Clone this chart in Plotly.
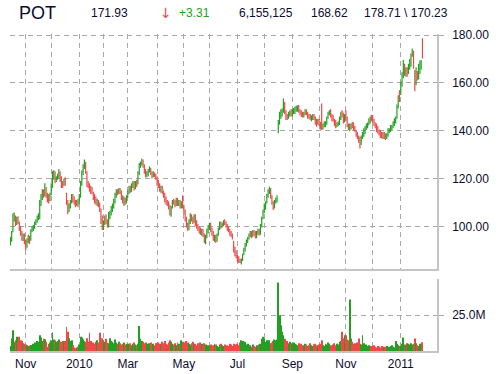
import pandas as pd
import plotly.graph_objects as go

# ---------------- data ----------------
ticker = "POT"
header_last = "171.93"
header_change = "+3.31"
header_volume = "6,155,125"
header_prev = "168.62"
header_hilo = "178.71 \\ 170.23"

start_date = "2009-10-15"
end_date = "2011-01-27"
holidays = ["2009-11-26", "2009-12-25", "2010-01-01", "2010-01-18", "2010-02-15",
            "2010-04-02", "2010-05-31", "2010-07-05", "2010-09-06", "2010-11-25",
            "2010-12-24", "2011-01-17"]

closes = [
    94.5, 97.0, 103.0, 104.5, 101.0, 103.0, 102.0, 99.0, 97.0, 95.0, 96.0, 93.0,
    91.5, 94.0, 95.0, 94.0, 98.0, 99.0, 99.5, 101.0, 102.0, 103.5, 104.0, 109.0, 112.0, 114.0, 113.0, 114.0, 113.0, 112.0, 111.0, 113.0,
    117, 121, 122, 119, 120, 121, 122, 120, 118, 117, 119, 118, 110, 107, 108, 110, 112, 111, 110, 109, 110, 109,
    112, 117, 122, 125, 126, 123, 118, 117, 116, 115, 114.5, 112, 111, 110, 110, 109.5, 108, 103, 100,
    101, 103, 102, 101, 104, 105, 107, 108, 110, 113, 114, 114, 115, 114, 112, 110, 111, 110, 112,
    114, 116, 115, 117, 117.5, 116, 118, 117, 122, 125, 126, 127, 125, 123, 121, 122, 123, 124, 122, 121, 122, 121, 120,
    118, 117, 115.5, 116, 114, 113, 111, 110, 109.5, 108, 106, 108, 110, 110, 109, 111, 109, 110, 108, 110, 109,
    106, 103, 100, 99, 102, 104, 103, 102, 104, 101, 100, 99, 98, 97.5, 98, 96, 94, 95, 98, 99,
    100, 98, 97, 95, 95.5, 94, 96, 99, 101, 100, 101, 102, 101, 100, 99, 98.5, 97, 96, 95, 90, 89, 87,
    86, 85.5, 85, 86, 88, 90, 92, 93, 95, 96, 97, 96, 97.5, 97, 96, 97, 98, 97, 100, 103, 106,
    108, 110, 113, 114, 115, 112, 110, 108, 110, 111, 112, 143, 146, 147, 148, 151, 148, 146, 145.5, 147, 147.5, 147,
    148, 148.5, 149, 149.5, 150, 148, 147.5, 147, 146.5, 147, 148, 147, 146, 146, 145, 145.5, 146, 145, 144, 143.5, 144,
    143, 141.5, 141, 142, 142.5, 143, 145, 147, 148, 146, 145, 144, 143, 142, 142.5, 143, 145, 147, 146, 144, 146,
    145, 142, 141, 141.5, 142, 142, 141, 140, 138, 137, 136, 134, 137, 138, 139, 141, 142, 142.5, 144, 145, 145.5,
    144, 143, 142, 141, 140, 139, 138.5, 138, 137.5, 138, 137, 138, 139.5, 140, 141, 142, 143, 144, 145, 150, 153, 154.83,
    159, 162, 166, 164, 165, 164, 166, 168, 171, 173, 168, 159, 163, 162, 165, 167, 168.62, 171.93,
]

opens = [
    93.0, 95.0, 98.0, 103.5, 104.0, 101.5, 103.5, 101.5, 99.5, 97.5, 94.5, 96.5,
    93.5, 92.0, 94.5, 95.5, 94.5, 98.5, 99.0, 99.8, 101.5, 102.0, 103.8, 104.5, 109.5, 112.5, 114.5, 113.0, 116.0, 113.5, 112.5, 111.0,
    113.5, 117.5, 121.5, 122.5, 119.5, 120.5, 121.5, 122.5, 120.5, 118.5, 117.5, 119.5, 113.0, 110.5, 107.5, 108.5, 110.5, 112.5, 111.5, 110.5, 109.0, 110.5,
    109.5, 112.5, 117.5, 122.5, 125.5, 126.5, 122.5, 118.5, 117.0, 116.5, 115.5, 114.0, 112.5, 111.5, 109.5, 110.5, 109.0, 107.0, 103.5,
    100.5, 101.5, 103.5, 102.5, 101.0, 104.5, 105.5, 107.0, 108.5, 110.0, 113.0, 114.5, 114.0, 115.5, 114.5, 112.5, 109.5, 111.5, 110.0,
    112.5, 114.5, 116.5, 115.0, 117.5, 118.0, 116.0, 118.5, 118.0, 122.5, 125.5, 126.5, 127.5, 125.5, 123.0, 121.0, 122.0, 123.5, 124.0, 122.5, 121.0, 122.0, 121.5,
    120.5, 118.5, 117.0, 115.0, 116.5, 114.0, 113.5, 111.5, 110.0, 109.5, 108.5, 105.5, 108.5, 110.5, 110.0, 109.0, 111.5, 109.0, 110.5, 108.0, 110.5,
    108.5, 106.5, 103.0, 100.5, 99.5, 102.0, 104.5, 103.5, 102.0, 104.5, 101.5, 100.5, 99.0, 98.5, 97.0, 98.5, 96.5, 93.5, 95.5, 98.0,
    99.5, 100.5, 98.5, 97.0, 94.5, 96.0, 94.0, 96.5, 99.0, 101.5, 100.0, 101.0, 102.5, 101.5, 100.5, 99.0, 98.5, 97.5, 96.5, 93.5, 90.5, 89.0,
    87.5, 86.5, 86.0, 84.5, 86.5, 88.5, 90.5, 92.5, 93.5, 95.0, 96.5, 97.5, 96.0, 98.0, 97.5, 96.0, 97.5, 98.5, 97.0, 100.5, 103.5,
    106.5, 108.0, 110.0, 113.5, 114.5, 115.5, 112.5, 110.0, 108.0, 110.5, 110.5, 139.5, 143.5, 146.0, 147.5, 148.5, 151.5, 148.0, 146.5, 145.5, 147.0, 148.0,
    147.0, 148.5, 148.0, 149.0, 149.0, 150.5, 148.5, 147.5, 147.5, 146.0, 147.0, 148.5, 147.5, 146.5, 146.0, 144.5, 145.0, 146.5, 145.5, 144.5, 143.0,
    144.5, 143.0, 142.0, 141.0, 142.5, 142.0, 143.0, 145.5, 147.0, 148.5, 146.5, 145.5, 144.0, 143.5, 142.0, 142.5, 143.0, 145.0, 147.5, 146.5, 144.0,
    146.5, 145.5, 142.0, 140.5, 141.5, 142.5, 142.5, 141.0, 140.0, 138.5, 137.5, 136.5, 134.5, 137.0, 138.0, 139.0, 141.0, 142.0, 142.5, 144.0, 146.5,
    145.5, 144.5, 143.0, 142.0, 141.5, 140.0, 139.5, 138.5, 138.5, 137.0, 138.5, 137.0, 138.0, 139.5, 140.0, 141.0, 141.5, 143.0, 144.0, 145.5, 150.0, 156.5,
    155.5, 159.0, 162.5, 167.0, 163.5, 165.5, 164.0, 166.5, 168.0, 171.5, 173.0, 165.0, 159.5, 164.0, 162.0, 165.5, 167.5, 178.0,
]

highs = [
    95.5, 98.0, 105.5, 105.8, 104.5, 104.0, 104.2, 102.0, 100.0, 98.0, 97.0, 97.0,
    94.5, 95.0, 96.5, 96.0, 98.8, 100.0, 100.5, 102.0, 103.0, 104.5, 105.5, 111.0, 113.5, 115.5, 115.5, 118.0, 116.5, 114.0, 113.5, 114.0,
    118.0, 123.0, 123.5, 123.0, 121.0, 122.0, 124.0, 123.0, 121.0, 119.0, 120.0, 120.5, 114.0, 111.0, 109.5, 111.0, 113.5, 113.5, 112.5, 111.0, 111.0, 111.5,
    113.5, 119.0, 123.5, 126.0, 128.0, 127.0, 123.0, 119.0, 118.0, 117.0, 116.5, 114.5, 113.5, 112.5, 111.5, 111.0, 110.0, 107.5, 104.5,
    102.5, 104.5, 105.0, 103.0, 106.0, 106.5, 108.5, 109.5, 111.5, 114.0, 115.5, 115.5, 116.0, 116.0, 115.0, 113.0, 112.5, 112.0, 113.0,
    115.0, 117.0, 117.0, 118.0, 119.0, 119.0, 119.0, 119.5, 123.0, 126.5, 127.0, 128.3, 128.0, 126.0, 124.0, 123.0, 124.0, 125.0, 124.5, 123.0, 123.0, 122.5, 122.0,
    121.0, 119.5, 118.0, 117.0, 117.0, 115.0, 114.0, 112.5, 111.0, 110.5, 109.0, 108.5, 111.0, 111.5, 111.0, 112.0, 112.0, 111.0, 111.0, 110.5, 113.0,
    109.0, 107.0, 104.0, 101.5, 103.0, 105.5, 105.0, 104.0, 105.0, 105.0, 102.5, 101.0, 100.0, 99.5, 99.0, 99.0, 97.0, 96.5, 99.0, 100.5,
    101.5, 101.5, 99.5, 98.0, 96.5, 96.5, 97.0, 99.5, 102.0, 102.0, 101.5, 102.5, 103.0, 102.0, 101.0, 100.0, 99.0, 98.0, 97.0, 94.0, 91.5, 90.0,
    88.0, 87.5, 86.5, 86.5, 88.5, 91.0, 93.0, 94.5, 95.5, 97.0, 98.0, 98.0, 98.5, 98.5, 98.0, 98.0, 99.0, 99.0, 101.0, 104.0, 107.0,
    109.5, 110.5, 113.5, 115.5, 116.6, 116.0, 113.0, 110.5, 111.0, 112.0, 113.0, 144.5, 148.0, 149.0, 149.3, 153.5, 152.0, 148.6, 147.0, 148.0, 148.5, 149.0,
    149.0, 149.5, 150.0, 150.5, 150.7, 150.8, 149.0, 148.6, 148.0, 148.0, 149.0, 149.0, 148.0, 147.0, 147.0, 146.5, 147.0, 147.0, 146.0, 145.0, 145.0,
    145.0, 143.8, 151.4, 143.0, 144.0, 144.0, 146.0, 148.0, 148.6, 149.0, 147.0, 146.6, 145.0, 144.5, 143.5, 144.0, 146.0, 148.0, 148.6, 147.5, 147.0,
    148.6, 146.0, 143.0, 143.0, 143.0, 143.8, 143.5, 142.0, 140.3, 139.5, 138.0, 137.5, 138.0, 139.5, 141.0, 142.0, 143.0, 143.5, 145.2, 146.0, 146.6,
    146.6, 145.0, 143.5, 143.0, 142.0, 140.5, 140.3, 139.5, 139.5, 139.6, 139.0, 139.0, 141.0, 141.0, 142.4, 142.4, 144.0, 145.2, 146.0, 151.0, 154.9, 157.0,
    160.5, 164.5, 169.6, 168.0, 166.6, 166.6, 168.0, 170.0, 172.3, 174.4, 173.5, 165.4, 166.6, 165.0, 168.0, 169.4, 169.6, 178.71,
]

lows = [
    92.0, 93.5, 97.5, 102.0, 100.0, 100.5, 101.0, 98.0, 96.0, 94.0, 93.8, 92.5,
    90.0, 91.0, 93.0, 92.5, 94.0, 97.5, 98.0, 99.0, 100.5, 101.5, 102.5, 103.0, 108.5, 111.0, 112.0, 112.5, 112.0, 110.0, 109.5, 110.5,
    113.0, 116.0, 119.5, 118.0, 118.5, 119.5, 120.0, 118.6, 116.0, 116.0, 117.0, 117.0, 109.0, 105.0, 106.0, 107.5, 109.5, 110.0, 109.0, 108.0, 108.5, 108.0,
    109.0, 112.0, 117.0, 121.5, 124.0, 122.0, 116.5, 116.0, 114.5, 113.5, 113.5, 111.0, 109.5, 109.0, 108.5, 108.0, 106.0, 101.0, 98.5,
    98.5, 100.5, 101.0, 99.5, 99.5, 103.0, 104.5, 106.0, 107.5, 109.5, 112.0, 113.0, 113.5, 113.5, 111.0, 109.5, 108.5, 109.0, 109.5,
    112.0, 113.5, 114.0, 114.5, 116.0, 115.0, 115.5, 116.5, 117.5, 121.5, 124.5, 125.5, 124.5, 122.0, 120.5, 120.5, 121.0, 122.5, 121.5, 120.0, 120.5, 120.5, 119.5,
    117.0, 116.0, 114.5, 114.0, 113.5, 112.0, 110.0, 109.0, 108.5, 107.0, 104.5, 104.0, 107.5, 109.0, 108.0, 108.5, 108.5, 108.5, 107.5, 107.5, 107.5,
    105.0, 102.0, 99.5, 98.0, 98.5, 101.0, 102.0, 101.0, 101.5, 100.0, 99.0, 98.0, 97.0, 96.5, 96.0, 95.5, 93.0, 92.5, 95.0, 97.0,
    98.5, 97.5, 96.0, 94.0, 93.5, 93.0, 93.5, 96.0, 98.5, 99.0, 99.5, 100.0, 100.5, 99.5, 98.0, 97.5, 96.0, 95.5, 94.5, 89.0, 87.5, 86.5,
    85.0, 84.6, 84.6, 84.0, 85.5, 88.0, 89.5, 91.5, 93.0, 94.5, 95.5, 95.0, 95.5, 96.0, 95.0, 95.0, 96.5, 96.0, 96.5, 99.5, 103.0,
    105.5, 107.0, 109.5, 112.0, 113.5, 111.5, 109.0, 106.8, 107.5, 109.5, 110.0, 139.0, 142.5, 145.0, 146.0, 147.5, 147.0, 144.5, 144.5, 145.0, 146.0, 146.0,
    146.0, 147.0, 147.0, 148.0, 148.0, 147.5, 146.5, 145.8, 145.5, 145.5, 146.5, 146.5, 145.0, 145.0, 144.5, 144.0, 144.5, 144.5, 142.5, 141.7, 142.5,
    142.0, 140.5, 140.3, 140.5, 141.5, 141.5, 142.5, 145.0, 146.5, 145.5, 144.0, 143.8, 142.0, 141.0, 141.5, 142.0, 142.4, 144.5, 145.5, 143.0, 143.5,
    144.0, 141.5, 140.3, 139.8, 140.5, 141.0, 140.0, 139.6, 137.5, 136.5, 135.0, 132.6, 134.0, 136.5, 137.5, 138.5, 140.3, 141.0, 142.4, 143.0, 144.0,
    143.0, 142.0, 141.0, 139.5, 138.9, 138.0, 137.0, 136.8, 136.5, 136.5, 136.1, 136.5, 137.5, 139.0, 139.5, 140.3, 141.0, 142.0, 143.0, 145.0, 149.3, 152.0,
    155.0, 158.4, 162.0, 163.0, 162.6, 162.6, 163.8, 165.5, 166.8, 171.0, 166.0, 156.5, 159.0, 161.0, 161.5, 163.8, 165.5, 170.23,
]

volumes_m = [
    3.5, 8.8, 14.5, 6.5, 7.5, 10.0, 6.5, 10.0, 7.5, 7.0, 5.5, 5.0,
    4.5, 4.0, 3.5, 3.8, 4.2, 3.5, 5.0, 6.0, 5.5, 7.0, 6.5, 11.0, 9.5, 7.0, 8.5, 8.0, 6.5, 3.0, 5.0, 6.0,
    7.5, 13.0, 8.0, 7.5, 6.5, 7.0, 8.0, 6.0, 6.5, 7.0, 6.0, 7.0, 16.9, 13.4, 9.0, 7.0, 7.5, 4.0, 2.5, 2.0, 2.5, 3.0,
    4.5, 10.0, 9.5, 8.0, 7.0, 6.5, 9.0, 6.5, 12.7, 7.0, 5.5, 6.0, 5.0, 6.5, 7.5, 6.0, 12.7, 8.5, 9.0,
    7.5, 6.5, 8.5, 6.0, 5.5, 9.0, 7.0, 6.5, 5.5, 8.0, 6.0, 5.0, 6.5, 5.5, 4.5, 5.0, 6.0, 4.5, 5.0,
    5.0, 4.5, 5.5, 4.0, 5.0, 6.0, 4.5, 4.0, 5.0, 17.5, 8.5, 7.0, 6.5, 5.5, 6.0, 5.0, 4.5, 5.5, 6.0, 4.5, 5.0, 4.0, 5.5,
    5.5, 6.0, 5.0, 4.5, 6.5, 5.5, 7.0, 5.0, 4.5, 6.0, 7.5, 6.5, 5.0, 4.5, 5.5, 4.0, 6.0, 5.0, 4.5, 7.5, 6.5,
    5.5, 6.0, 7.0, 6.0, 5.0, 4.5, 5.5, 6.5, 4.5, 5.0, 4.0, 5.5, 4.5, 6.0, 5.0, 4.0, 5.5, 4.5, 4.0, 3.5,
    4.0, 4.5, 3.5, 4.0, 5.0, 4.5, 3.5, 3.0, 4.5, 5.0, 4.0, 3.5, 4.5, 3.0, 4.0, 3.5, 5.0, 4.5, 3.5, 5.0, 4.5, 4.0,
    5.0, 4.0, 6.0, 7.5, 7.0, 5.5, 6.5, 4.5, 5.0, 3.5, 4.0, 3.0, 4.5, 3.5, 3.0, 4.0, 3.5, 4.5, 5.0, 8.5, 10.0,
    9.0, 6.5, 7.5, 7.0, 7.5, 5.5, 6.0, 7.0, 8.0, 7.5, 8.0, 48.0, 25.0, 18.0, 13.4, 11.0, 8.5, 6.0, 7.0, 5.5, 6.5, 5.0,
    5.5, 6.0, 5.0, 4.5, 4.0, 5.5, 4.5, 5.0, 4.0, 3.5, 5.0, 4.5, 3.5, 4.0, 5.5, 4.0, 3.5, 4.5, 5.0, 4.0, 3.5,
    4.5, 5.0, 7.5, 4.0, 3.5, 5.0, 4.5, 6.0, 5.0, 4.0, 3.5, 4.5, 5.5, 4.0, 5.0, 4.5, 6.5, 7.0, 13.4, 9.0, 11.0,
    11.0, 8.0, 7.5, 36.0, 8.8, 6.5, 5.0, 5.5, 4.5, 6.0, 8.8, 5.0, 4.5, 11.0, 5.5, 4.0, 4.5, 3.5, 4.0, 3.0, 3.5,
    3.5, 4.0, 3.0, 2.5, 3.5, 3.0, 2.5, 3.5, 3.0, 2.5, 3.0, 3.5, 2.5, 3.0, 3.5, 4.0, 3.0, 2.5, 7.0, 5.0, 4.0, 3.5,
    3.5, 5.0, 9.5, 4.5, 4.0, 5.5, 5.0, 4.5, 5.5, 4.5, 5.0, 8.8, 5.5, 4.0, 3.5, 5.0, 4.5, 6.155125,
]

price_ticks = [100, 120, 140, 160, 180]
volume_ticks = [25e6]
volume_tick_text = ["25.0M"]
month_abbr = {3: "Mar", 5: "May", 7: "Jul", 9: "Sep", 11: "Nov"}

# ---------------- derived ----------------
dates = pd.bdate_range(start_date, end_date)
dates = dates[~dates.isin(pd.to_datetime(holidays))]
n = len(closes)
assert len(dates) == n == len(opens) == len(highs) == len(lows) == len(volumes_m), (
    len(dates), n, len(opens), len(highs), len(lows), len(volumes_m))
idx = list(range(n))
volumes = [v * 1e6 for v in volumes_m]

tickvals, ticktext = [], []
for i in range(1, n):
    if dates[i].month != dates[i - 1].month:
        tickvals.append(i)
        m = dates[i].month
        if m == 1:
            ticktext.append(str(dates[i].year))
        else:
            ticktext.append(month_abbr.get(m, ""))

GREEN = "#22a022"
RED = "#f04848"
TEXT = "#0c0c30"
GRID = "#a8a8a8"
AXIS = "#c4c4c4"
FONT = "Liberation Sans, Arial, sans-serif"

vol_colors = [GREEN if c >= o else RED for o, c in zip(opens, closes)]

W, H = 500, 374
PLOT_L, PLOT_R, PLOT_T, PLOT_B = 10, 437, 34, 351   # page pixels
ML, MR, MT, MB = PLOT_L, W - PLOT_R, PLOT_T, H - PLOT_B
PW, PH = W - ML - MR, H - MT - MB


def px_x(px):
    return (px - PLOT_L) / PW


def px_y(py):
    return (PLOT_B - py) / PH


fig = go.Figure()
fig.add_trace(go.Ohlc(
    x=idx, open=opens, high=highs, low=lows, close=closes,
    increasing=dict(line=dict(color=GREEN, width=1.2)),
    decreasing=dict(line=dict(color=RED, width=1.2)),
    tickwidth=0.35, xaxis="x", yaxis="y", showlegend=False, hoverinfo="skip",
))
fig.add_trace(go.Bar(
    x=idx, y=volumes, marker=dict(color=vol_colors, line=dict(width=0)),
    width=0.75, xaxis="x2", yaxis="y2", showlegend=False, hoverinfo="skip",
))

xr = [-0.3, 334.4]
common_x = dict(range=xr, tickvals=tickvals, showgrid=True, gridcolor=GRID,
                griddash="5px,4px", gridwidth=1, zeroline=False,
                showline=True, linecolor=AXIS, linewidth=1.5, ticks="",
                fixedrange=True, automargin=False)

fig.update_layout(
    width=W, height=H,
    margin=dict(l=ML, r=MR, t=MT, b=MB, autoexpand=False),
    paper_bgcolor="white", plot_bgcolor="white",
    font=dict(family=FONT, size=12, color=TEXT),
    xaxis=dict(**common_x, anchor="y", showticklabels=False,
               rangeslider=dict(visible=False)),
    xaxis2=dict(**common_x, anchor="y2", matches="x", ticktext=ticktext,
                showticklabels=True, ticklabelstandoff=1,
                tickfont=dict(size=12, color=TEXT)),
    yaxis=dict(domain=[px_y(269), 1], range=[82.13, 180.5], side="right",
               tickvals=price_ticks, tickformat=".2f", automargin=False,
               showgrid=True, gridcolor=GRID, griddash="5px,4px", gridwidth=1,
               zeroline=False, showline=True, linecolor=AXIS, linewidth=1.5,
               ticks="outside", ticklen=5, tickcolor=GRID, ticklabelstandoff=6,
               tickfont=dict(size=12, color=TEXT), fixedrange=True),
    yaxis2=dict(domain=[0, px_y(279)], range=[0, 50.4e6], side="right",
                tickvals=volume_ticks, ticktext=volume_tick_text, automargin=False,
                showgrid=True, gridcolor=GRID, griddash="5px,4px", gridwidth=1,
                zeroline=False, showline=True, linecolor=AXIS, linewidth=1.5,
                ticks="outside", ticklen=5, tickcolor=GRID, ticklabelstandoff=6,
                tickfont=dict(size=12, color=TEXT), fixedrange=True),
    bargap=0.2,
)

header_y = px_y(13)
header = [
    (ticker, 17, TEXT, 18, FONT),
    (header_last, 89, TEXT, 12, FONT),
    ("\u2193", 158, RED, 14, "DejaVu Sans"),
    (header_change, 177, GREEN, 12, FONT),
    (header_volume, 237, TEXT, 12, FONT),
    (header_prev, 309, TEXT, 12, FONT),
    (header_hilo, 362, TEXT, 12, FONT),
]
for text, px, color, size, fam in header:
    fig.add_annotation(text=text, x=px_x(px), y=header_y, xref="paper", yref="paper",
                       xanchor="left", yanchor="middle", showarrow=False,
                       font=dict(family=fam, size=size, color=color))

fig.write_html(
    "out.html",
    config={"displayModeBar": False},
    post_script="document.documentElement.style.margin='0px';"
                "document.body.style.margin='0px';document.body.style.padding='0px';",
)
